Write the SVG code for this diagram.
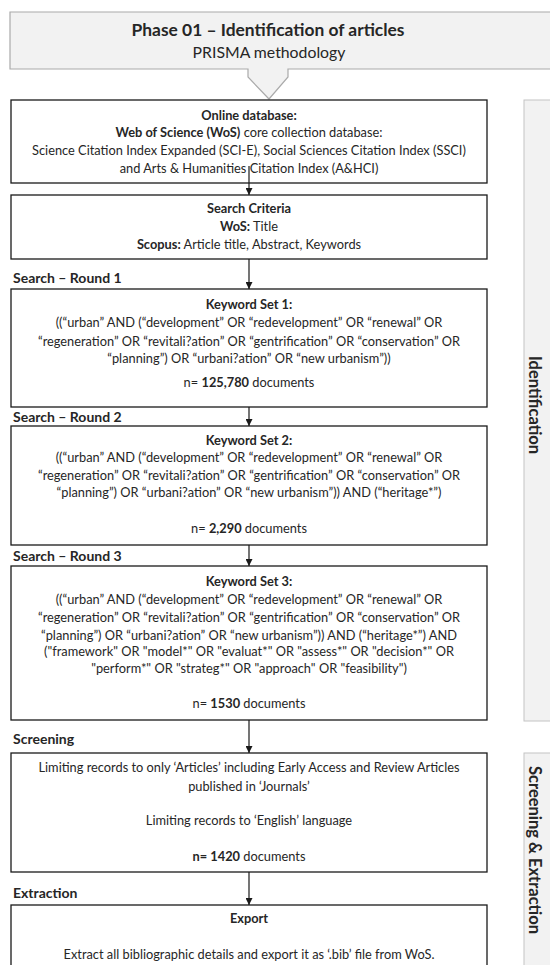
<svg xmlns="http://www.w3.org/2000/svg" width="550" height="965" viewBox="0 0 550 965">
<defs>
<style>
text{font-family:Lato,"Open Sans","Liberation Sans",sans-serif;fill:#262626;font-size:12.8px;text-anchor:middle}
.b{font-weight:bold}
.lbl{text-anchor:start;font-weight:bold;font-size:14px}
.box{fill:#fff;stroke:#1a1a1a;stroke-width:1.3}
.panel{fill:#f2f2f2;stroke:#c4c4c4;stroke-width:1}
.side{font-weight:bold;font-size:16.5px}
.conn{stroke:#1a1a1a;stroke-width:1.2;fill:none;marker-end:url(#ah)}
</style>
<marker id="ah" viewBox="0 0 10 10" refX="10" refY="5" markerWidth="7" markerHeight="7" markerUnits="userSpaceOnUse" orient="auto"><path d="M0,0 L10,5 L0,10 z" fill="#1a1a1a"/></marker>
</defs>
<rect width="550" height="965" fill="#fff"/>

<g id="header">
<path d="M10,12 H560 V69 H288 V77 L269,99 L248,77 V69 H10 Z" fill="#f2f2f2" stroke="#aaaaaa" stroke-width="1.2"/>
<text x="268" y="36" class="b" style="font-size:17.4px">Phase 01 – Identification of articles</text>
<text x="269" y="58" style="font-size:15.8px">PRISMA methodology</text>
</g>

<g id="panel-identification">
<rect x="524" y="100" width="40" height="621" class="panel"/>
<text class="side" transform="translate(529,405) rotate(90)">Identification</text>
</g>
<g id="panel-screening">
<rect x="524" y="753" width="40" height="230" class="panel"/>
<text class="side" transform="translate(529,850) rotate(90)">Screening &amp; Extraction</text>
</g>

<g id="online-database">
<rect x="11" y="100" width="476" height="83" class="box"/>
<text x="249" y="120" class="b">Online database:</text>
<text x="249" y="137"><tspan class="b">Web of Science (WoS)</tspan> core collection database:</text>
<text x="249" y="155">Science Citation Index Expanded (SCI-E), Social Sciences Citation Index (SSCI)</text>
<text x="249" y="173">and Arts &amp; Humanities Citation Index (A&amp;HCI)</text>
</g>

<g id="search-criteria">
<rect x="11" y="195" width="476" height="64" class="box"/>
<text x="249" y="213" class="b">Search Criteria</text>
<text x="249" y="231"><tspan class="b">WoS:</tspan> Title</text>
<text x="249" y="249"><tspan class="b">Scopus:</tspan> Article title, Abstract, Keywords</text>
</g>

<g id="label-round1"><text x="13" y="283" class="lbl">Search – Round 1</text></g>

<g id="keyword-set-1">
<rect x="11" y="289" width="476" height="118" class="box"/>
<text x="249" y="309" class="b">Keyword Set 1:</text>
<text x="249" y="327">((“urban” AND (“development” OR “redevelopment” OR “renewal” OR</text>
<text x="249" y="346">“regeneration” OR “revitali?ation” OR “gentrification” OR “conservation” OR</text>
<text x="249" y="363">“planning”) OR “urbani?ation” OR “new urbanism”))</text>
<text x="249" y="387">n= <tspan class="b">125,780</tspan> documents</text>
</g>

<g id="label-round2"><text x="13" y="422" class="lbl">Search – Round 2</text></g>

<g id="keyword-set-2">
<rect x="11" y="426" width="476" height="119" class="box"/>
<text x="249" y="445" class="b">Keyword Set 2:</text>
<text x="249" y="462">((“urban” AND (“development” OR “redevelopment” OR “renewal” OR</text>
<text x="249" y="480">“regeneration” OR “revitali?ation” OR “gentrification” OR “conservation” OR</text>
<text x="249" y="497">“planning”) OR “urbani?ation” OR “new urbanism”)) AND (“heritage*”)</text>
<text x="249" y="533">n= <tspan class="b">2,290</tspan> documents</text>
</g>

<g id="label-round3"><text x="13" y="561" class="lbl">Search – Round 3</text></g>

<g id="keyword-set-3">
<rect x="11" y="566" width="476" height="154" class="box"/>
<text x="249" y="586" class="b">Keyword Set 3:</text>
<text x="249" y="604">((“urban” AND (“development” OR “redevelopment” OR “renewal” OR</text>
<text x="249" y="622">“regeneration” OR “revitali?ation” OR “gentrification” OR “conservation” OR</text>
<text x="249" y="640">“planning”) OR “urbani?ation” OR “new urbanism”)) AND (“heritage*”) AND</text>
<text x="249" y="656">("framework" OR "model*" OR "evaluat*" OR "assess*" OR "decision*" OR</text>
<text x="249" y="673">"perform*" OR "strateg*" OR "approach" OR "feasibility")</text>
<text x="249" y="708">n= <tspan class="b">1530</tspan> documents</text>
</g>

<g id="label-screening"><text x="13" y="744" class="lbl">Screening</text></g>

<g id="screening">
<rect x="11" y="753" width="476" height="119" class="box"/>
<text x="249" y="772">Limiting records to only ‘Articles’ including Early Access and Review Articles</text>
<text x="249" y="791">published in ‘Journals’</text>
<text x="249" y="825">Limiting records to ‘English’ language</text>
<text x="249" y="861"><tspan class="b">n= 1420</tspan> documents</text>
</g>

<g id="label-extraction"><text x="13" y="898" class="lbl">Extraction</text></g>

<g id="export">
<rect x="11" y="905" width="476" height="80" class="box"/>
<text x="249" y="923" class="b">Export</text>
<text x="249" y="959">Extract all bibliographic details and export it as ‘.bib’ file from WoS.</text>
</g>

<g id="connectors">
<line x1="249" y1="166" x2="249" y2="195" class="conn"/>
<line x1="249" y1="259" x2="249" y2="289" class="conn"/>
<line x1="249" y1="407" x2="249" y2="426" class="conn"/>
<line x1="249" y1="545" x2="249" y2="566" class="conn"/>
<line x1="249" y1="720" x2="249" y2="753" class="conn"/>
<line x1="249" y1="872" x2="249" y2="905" class="conn"/>
</g>
</svg>
